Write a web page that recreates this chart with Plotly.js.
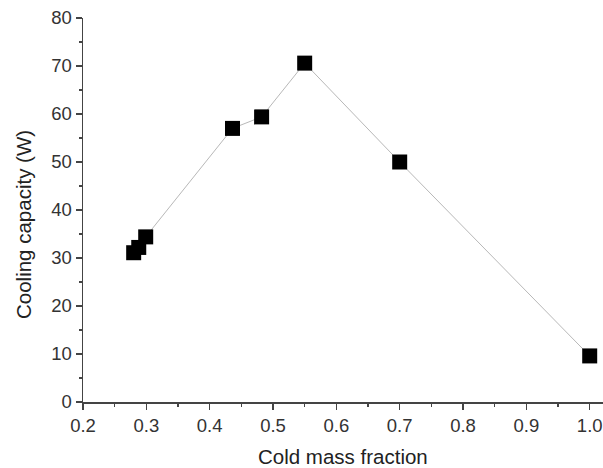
<!DOCTYPE html>
<html>
<head>
<meta charset="utf-8">
<script src="https://cdn.plot.ly/plotly-3.0.1.min.js"></script>
<style>html,body{margin:0;padding:0;background:#fff;}#chart{width:603px;height:468px;}</style>
</head>
<body>
<div id="chart"></div>
<script>
const coldMassFraction = [0.28, 0.288, 0.299, 0.436, 0.482, 0.55, 0.70, 1.0];
const coolingCapacity = [31.1, 32.2, 34.4, 57.0, 59.4, 70.6, 50.0, 9.6];
const xTickVals = [0.2, 0.3, 0.4, 0.5, 0.6, 0.7, 0.8, 0.9, 1.0];
const xTickText = ["0.2", "0.3", "0.4", "0.5", "0.6", "0.7", "0.8", "0.9", "1.0"];
const yTickVals = [0, 10, 20, 30, 40, 50, 60, 70, 80];
const xTitle = 'Cold mass fraction';
const yTitle = 'Cooling capacity (W)';

const trace = {
  x: coldMassFraction,
  y: coolingCapacity,
  type: 'scatter',
  mode: 'lines+markers',
  line: {color: '#b8b8b8', width: 1},
  marker: {symbol: 'square', size: 15, color: '#000000', line: {width: 0}},
  cliponaxis: false,
  hoverinfo: 'none'
};

const axisFont = {family: 'Liberation Sans, Arial, sans-serif', size: 18.5, color: '#333333'};
const titleFont = {family: 'Liberation Sans, Arial, sans-serif', size: 20.5, color: '#222222'};

const layout = {
  width: 603,
  height: 468,
  margin: {l: 83, r: 0, t: 18, b: 66},
  paper_bgcolor: '#ffffff',
  plot_bgcolor: '#ffffff',
  showlegend: false,
  font: axisFont,
  xaxis: {
    range: [0.2, 1.021],
    tickvals: xTickVals,
    ticktext: xTickText,
    ticks: 'outside',
    ticklen: 6,
    tickwidth: 1.5,
    tickcolor: '#444',
    minor: {dtick: 0.05, tick0: 0.2, ticks: 'outside', ticklen: 3, tickwidth: 1.5, tickcolor: '#444', showgrid: false},
    showline: true,
    linecolor: '#444',
    linewidth: 1.5,
    showgrid: false,
    zeroline: false,
    tickfont: axisFont
  },
  yaxis: {
    range: [0, 80],
    tickvals: yTickVals,
    ticks: 'outside',
    ticklen: 6,
    tickwidth: 1.5,
    tickcolor: '#444',
    minor: {dtick: 5, tick0: 0, ticks: 'outside', ticklen: 3, tickwidth: 1.5, tickcolor: '#444', showgrid: false},
    showline: true,
    linecolor: '#444',
    linewidth: 1.5,
    showgrid: false,
    zeroline: false,
    tickfont: axisFont
  },
  annotations: [
    {text: xTitle, xref: 'paper', yref: 'paper', x: 0.5, y: -0.1432, xanchor: 'center', yanchor: 'middle', showarrow: false, font: titleFont},
    {text: yTitle, xref: 'paper', yref: 'paper', x: -0.1154, y: 0.4635, xanchor: 'center', yanchor: 'middle', textangle: -90, showarrow: false, font: titleFont}
  ]
};

Plotly.newPlot('chart', [trace], layout, {displayModeBar: false, staticPlot: true});
</script>
</body>
</html>
